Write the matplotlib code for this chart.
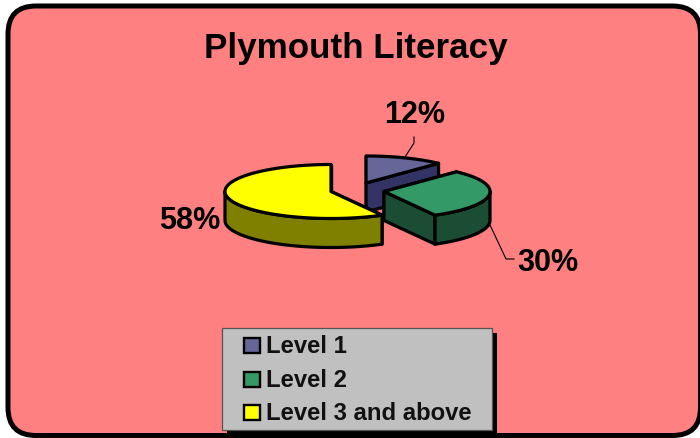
import numpy as np
import matplotlib
matplotlib.use("Agg")
import matplotlib.pyplot as plt
from matplotlib.patches import Polygon, Rectangle, FancyBboxPatch

title = "Plymouth Literacy"
categories = ["Level 1", "Level 2", "Level 3 and above"]
values = [12, 30, 58]
top_colors = ["#666699", "#339966", "#FFFF00"]
side_colors = ["#333366", "#1A4D33", "#808000"]

plt.rcParams['font.family'] = ['Liberation Sans', 'DejaVu Sans']

# pixel style coordinates, y going down
fig = plt.figure(figsize=(7, 4.38), dpi=100)
ax = fig.add_axes([0, 0, 1, 1])
ax.set_xlim(0, 700)
ax.set_ylim(438, 0)
ax.axis("off")

ax.add_patch(FancyBboxPatch((36, 34), 700.5 - 36 - 28, 435.5 - 34 - 28,
                            boxstyle="round,pad=28,rounding_size=28",
                            fc="#FF8080", ec="black", lw=3.6, clip_on=False))
ax.text(356, 58, title, fontsize=25.2, fontweight="bold", ha="center", va="baseline")

rx, ry, depth = 106, 27, 29
centers = [(366, 183), (384, 191.5), (331, 191.5)]
lw = 2.3


def pt(c, a):
    return c[0] + rx * np.cos(np.radians(a)), c[1] - ry * np.sin(np.radians(a))


def face(points, color, z):
    ax.add_patch(Polygon(points, closed=True, fc=color, ec="black", lw=lw,
                         joinstyle="round", zorder=z))


def wall(c, a, color, z):
    x, y = pt(c, a)
    face([c, (x, y), (x, y + depth), (c[0], c[1] + depth)], color, z)


# slices run clockwise from the top
bounds = 90 - np.cumsum([0] + values) * 3.6
draw_order = [0, 2, 1]
for n, i in enumerate(draw_order):
    a0, a1 = bounds[i], bounds[i + 1]
    c = centers[i]
    z = 2 + n * 0.1
    wall(c, a0, side_colors[i], z)
    wall(c, a1, side_colors[i], z)
    # front part of the rim only
    lo, hi = max(a1, -180), min(a0, 0)
    if hi > lo:
        arc = [pt(c, a) for a in np.linspace(hi, lo, 60)]
        rim = arc + [(x, y + depth) for x, y in arc[::-1]]
        face(rim, side_colors[i], z)
    top = [c] + [pt(c, a) for a in np.linspace(a0, a1, 120)]
    face(top, top_colors[i], z)

# leader lines
ax.plot([405, 414, 414], [157, 143, 137], color="black", lw=0.8, zorder=1)
ax.plot([490, 506, 514], [225, 259, 259], color="black", lw=0.8, zorder=1)

label_pos = [(415, 123), (548, 271), (190, 229)]
for v, (x, y) in zip(values, label_pos):
    ax.text(x, y, f"{v}%", fontsize=22, fontweight="bold", ha="center", va="baseline")

# legend with its shadow
ax.add_patch(Rectangle((227, 332.5), 270, 102, fc="black", ec="none", zorder=3))
ax.add_patch(Rectangle((222, 327.5), 270, 102, fc="#C0C0C0", ec="#555555", lw=0.9, zorder=4))
legend_y = [353, 387, 420]
for name, color, y in zip(categories, top_colors, legend_y):
    ax.add_patch(Rectangle((244, y - 15.5), 16, 15, fc=color, ec="black", lw=1.7, zorder=5))
    ax.text(266.5, y, name, fontsize=17.2, fontweight="bold", ha="left", va="baseline",
            color="#111111", zorder=5)

fig.savefig("out.png", dpi=100)
